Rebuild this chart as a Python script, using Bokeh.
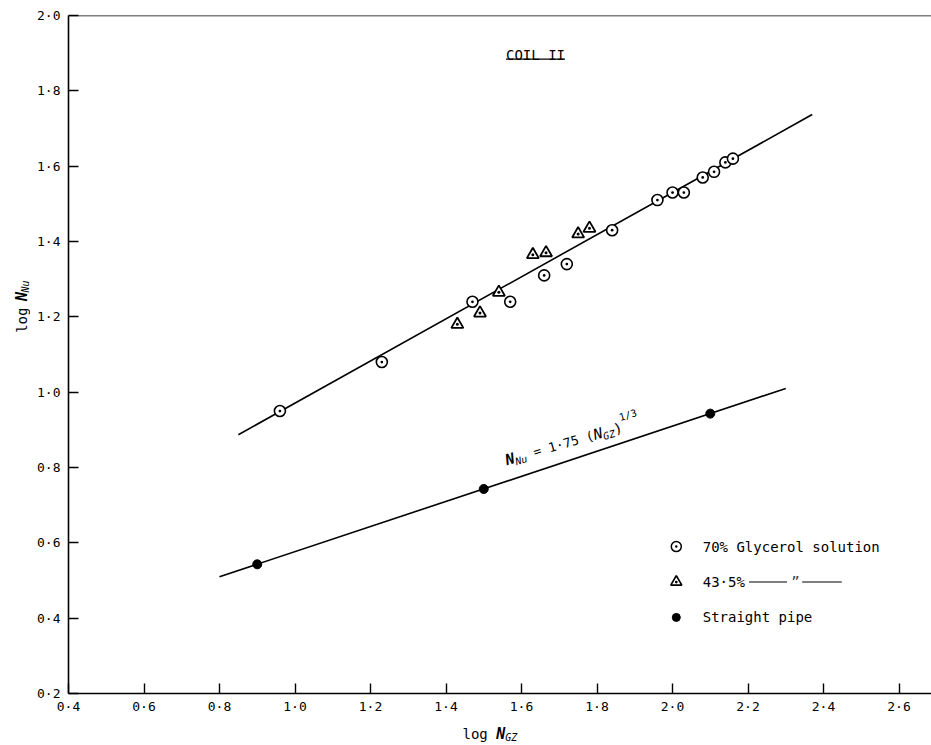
import math
from bokeh.plotting import figure
from bokeh.layouts import column, row
from bokeh.models import Label, Span, Range1d, FixedTicker, CustomJSTickFormatter
from bokeh.embed import file_html
from bokeh.resources import INLINE

# ---- data ----
glyc70_x = [0.96, 1.23, 1.47, 1.57, 1.66, 1.72, 1.84, 1.96, 2.00, 2.03, 2.08, 2.11, 2.14, 2.16]
glyc70_y = [0.95, 1.08, 1.24, 1.24, 1.31, 1.34, 1.43, 1.51, 1.53, 1.53, 1.57, 1.585, 1.61, 1.62]
glyc43_x = [1.43, 1.49, 1.54, 1.63, 1.665, 1.75, 1.78]
glyc43_y = [1.18, 1.21, 1.265, 1.365, 1.37, 1.42, 1.435]
pipe_x = [0.9, 1.5, 2.1]
pipe_y = [0.543, 0.743, 0.943]
coil_fit_x = [0.85, 2.37]
coil_fit_y = [0.887, 1.737]
pipe_fit_x = [0.80, 2.30]
pipe_fit_y = [0.510, 1.010]
x_ticks = [0.4, 0.6, 0.8, 1.0, 1.2, 1.4, 1.6, 1.8, 2.0, 2.2, 2.4, 2.6]
y_ticks = [0.2, 0.4, 0.6, 0.8, 1.0, 1.2, 1.4, 1.6, 1.8, 2.0]
legend_labels = ["70% Glycerol solution", "43·5%", "Straight pipe"]

FONT = "DejaVu Sans Mono"
NB = "\u00a0"
X0, X1 = 0.4, 2.686
Y0, Y1 = 0.2, 2.0
W, H = 931, 745
LW = 30          # left strip (y-axis title)
BH = 25          # bottom strip (x-axis title)
MW, MH = W - LW, H - BH
BL, BR, BT, BB = 38, 0, 15, 27
SX = (MW - BL - BR) / (X1 - X0)
SY = (MH - BT - BB) / (Y1 - Y0)

p = figure(width=MW, height=MH, x_range=Range1d(X0, X1), y_range=Range1d(Y0, Y1),
           output_backend="svg", toolbar_location=None,
           min_border_left=BL, min_border_right=BR, min_border_top=BT, min_border_bottom=BB)
p.grid.grid_line_color = None
p.outline_line_color = None
p.background_fill_color = "white"
p.border_fill_color = "white"

fmt = CustomJSTickFormatter(code="return tick.toFixed(1).replace('.', '\u00b7');")
for ax, ticks in ((p.xaxis[0], x_ticks), (p.yaxis[0], y_ticks)):
    ax.ticker = FixedTicker(ticks=ticks)
    ax.formatter = fmt
    ax.axis_line_width = 1.6
    ax.axis_line_color = "black"
    ax.major_tick_in = 10
    ax.major_tick_out = 0
    ax.major_tick_line_width = 1.4
    ax.minor_tick_line_color = None
    ax.major_label_text_font = FONT
    ax.major_label_text_font_size = "13px"
    ax.major_label_text_color = "black"
p.xaxis.major_label_standoff = 5
p.yaxis.major_label_standoff = 8
p.add_layout(Span(location=Y1, dimension="width", line_color="black", line_width=1.6))

# fitted lines
p.line(coil_fit_x, coil_fit_y, line_color="black", line_width=1.6)
p.line(pipe_fit_x, pipe_fit_y, line_color="black", line_width=1.6)

# markers
p.scatter(glyc70_x, glyc70_y, marker="circle_dot", size=11, fill_color="white",
          line_color="black", line_width=1.6)
p.scatter(glyc43_x, glyc43_y, marker="triangle_dot", size=12, fill_color="white",
          line_color="black", line_width=1.8)
p.scatter(pipe_x, pipe_y, marker="circle", size=9, fill_color="black", line_color="black")


def runs(fig, x0, y0, angle_deg, pieces, sx=1.0, sy=1.0):
    """Lay text pieces along a (rotated) baseline; offsets in px, sx/sy px per unit."""
    a = math.radians(angle_deg)
    d = 0.0
    for text, size, style, shift in pieces:
        px = d * math.cos(a) - shift * math.sin(a)
        py = d * math.sin(a) + shift * math.cos(a)
        fig.add_layout(Label(x=x0 + px / sx, y=y0 + py / sy, text=text, angle=a,
                             text_font=FONT, text_font_size=f"{size}px",
                             text_font_style=style, text_align="left",
                             text_baseline="alphabetic", text_color="black"))
        d += len(text) * 0.602 * size


def strip(w, h):
    f = figure(width=w, height=h, x_range=Range1d(0, w), y_range=Range1d(0, h),
               output_backend="svg", toolbar_location=None,
               min_border=0, x_axis_type=None, y_axis_type=None)
    f.grid.grid_line_color = None
    f.outline_line_color = None
    f.background_fill_color = "white"
    f.border_fill_color = "white"
    return f


# title
tx, ty = 1.637, 1.895
p.add_layout(Label(x=tx, y=ty, text="COIL II", text_font=FONT, text_font_size="14px",
                   text_align="center", text_baseline="alphabetic", text_color="black"))
half = 3.5 * 0.602 * 14 / SX
p.line([tx - half, tx + half], [ty - 4 / SY, ty - 4 / SY], line_color="black", line_width=1.3)

# formula on lower line
runs(p, 1.558, 0.8186, 16,
     [("N", 15, "bold italic", 0), ("Nu", 10, "italic", -4),
      (NB + "=" + NB + "1\u00b775" + NB + "(", 13, "normal", 0),
      ("N", 15, "italic", 0), ("GZ", 10, "italic", -4),
      (")", 14, "normal", 0), ("1/3", 10, "normal", 10)], SX, SY)

# legend
lx_m = 2.01
lx_t = 2.08
rows = [0.59, 0.496, 0.402]
p.scatter([lx_m], [rows[0]], marker="circle_dot", size=10, fill_color="white",
          line_color="black", line_width=1.5)
p.scatter([lx_m], [rows[1]], marker="triangle_dot", size=11, fill_color="white",
          line_color="black", line_width=1.7)
p.scatter([lx_m], [rows[2]], marker="circle", size=8, fill_color="black", line_color="black")
for lab, ry in zip(legend_labels, rows):
    p.add_layout(Label(x=lx_t, y=ry, text=lab, text_font=FONT, text_font_size="14px",
                       text_align="left", text_baseline="middle", text_color="black"))
cw = 0.602 * 14 / SX
s1 = lx_t + 5.5 * cw
p.line([s1, s1 + 4.5 * cw], [rows[1], rows[1]], line_color="black", line_width=1.2)
p.add_layout(Label(x=s1 + 5.0 * cw, y=rows[1], text="\u201d", text_font=FONT,
                   text_font_size="14px", text_align="left", text_baseline="middle"))
p.line([s1 + 6.3 * cw, s1 + 11 * cw], [rows[1], rows[1]], line_color="black", line_width=1.2)

# axis titles in side strips
left = strip(LW, MH)
runs(left, 21, MH - 337, 90,
     [("log" + NB, 14, "normal", 0), ("N", 15, "bold italic", 0), ("Nu", 10, "italic", -4)])
bottom = strip(W, BH)
runs(bottom, 462, H - 733, 0,
     [("log" + NB, 14, "normal", 0), ("N", 15, "bold italic", 0), ("GZ", 10, "italic", -4)])

layout = column(row(left, p, spacing=0), bottom, spacing=0)
open("out.html", "w").write(file_html(layout, INLINE))
